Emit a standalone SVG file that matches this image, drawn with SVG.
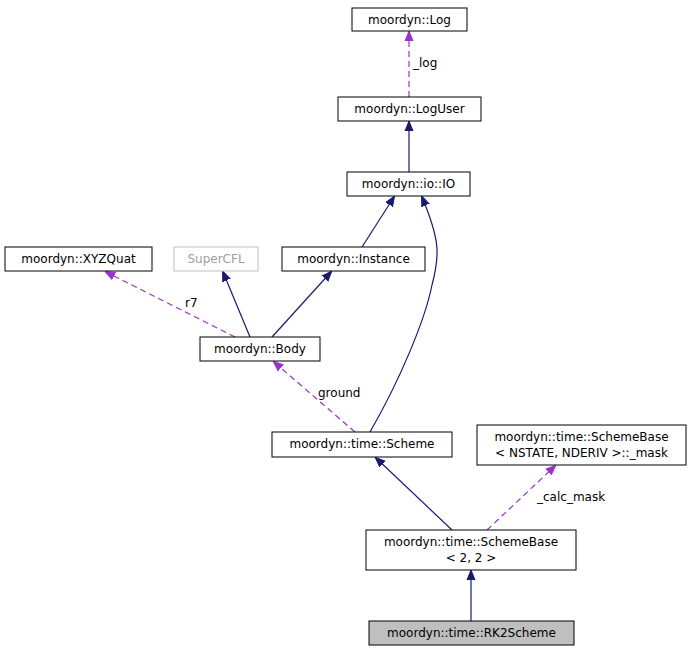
<svg xmlns="http://www.w3.org/2000/svg" width="691" height="652" viewBox="0 0 691 652">
<style>
text{font-family:"DejaVu Sans",sans-serif;font-size:12px;fill:#000}
.n rect{fill:#fff;stroke:#000;stroke-width:1}
.s{stroke:#191970;fill:none;stroke-width:1.2}
.d{stroke:#9a32cd;fill:none;stroke-width:1.2;stroke-dasharray:6,4}
</style>
<defs>
<marker id="a" markerWidth="10" markerHeight="10" refX="9" refY="5" orient="auto" markerUnits="userSpaceOnUse"><path d="M0,1 L10,5 L0,9 Z" fill="#191970" stroke="#191970"/></marker>
<marker id="b" markerWidth="10" markerHeight="10" refX="9" refY="5" orient="auto" markerUnits="userSpaceOnUse"><path d="M0,1 L10,5 L0,9 Z" fill="#9a32cd" stroke="#9a32cd"/></marker>
</defs>
<rect width="691" height="652" fill="#fff"/>
<g id="edges">
<path class="d" d="M409,97 L409,32" marker-end="url(#b)"/><text x="413" y="67">_log</text>
<path class="s" d="M409,172 L409,122" marker-end="url(#a)"/>
<path class="s" d="M362,247 L394,197" marker-end="url(#a)"/>
<path class="s" d="M370,432 C400,380 425,320 432,285 C440,255 440,240 422,197" marker-end="url(#a)"/>
<path class="s" d="M250,337 L223,272" marker-end="url(#a)"/>
<path class="s" d="M272,337 L331,272" marker-end="url(#a)"/>
<path class="d" d="M235,337 L106,272" marker-end="url(#b)"/><text x="185" y="307">r7</text>
<path class="d" d="M355,432 L274,362" marker-end="url(#b)"/><text x="318" y="397">ground</text>
<path class="s" d="M452,530 L376,458" marker-end="url(#a)"/>
<path class="d" d="M487,530 L555,466" marker-end="url(#b)"/><text x="537" y="501">_calc_mask</text>
<path class="s" d="M471,621 L471,571" marker-end="url(#a)"/>
</g>
<g id="log" class="n"><rect x="352" y="8" width="115" height="23"/><text x="409.5" y="24" text-anchor="middle">moordyn::Log</text></g>
<g id="loguser" class="n"><rect x="338" y="97" width="143" height="24"/><text x="409.5" y="113" text-anchor="middle">moordyn::LogUser</text></g>
<g id="io" class="n"><rect x="347" y="172" width="123" height="24"/><text x="408.5" y="188" text-anchor="middle">moordyn::io::IO</text></g>
<g id="xyzquat" class="n"><rect x="5" y="247" width="147" height="24"/><text x="78.5" y="263" text-anchor="middle">moordyn::XYZQuat</text></g>
<g id="supercfl" class="n"><rect x="174" y="247" width="84" height="24" style="stroke:#bfbfbf"/><text x="216" y="263" text-anchor="middle" style="fill:#a0a0a0">SuperCFL</text></g>
<g id="instance" class="n"><rect x="282" y="247" width="143" height="24"/><text x="353.5" y="263" text-anchor="middle">moordyn::Instance</text></g>
<g id="body" class="n"><rect x="200" y="337" width="120" height="24"/><text x="260" y="353" text-anchor="middle">moordyn::Body</text></g>
<g id="scheme" class="n"><rect x="272" y="432" width="180" height="25"/><text x="362" y="448" text-anchor="middle">moordyn::time::Scheme</text></g>
<g id="mask" class="n"><rect x="477" y="425" width="209" height="40"/><text x="581.5" y="441" text-anchor="middle">moordyn::time::SchemeBase</text><text x="581.5" y="457" text-anchor="middle">&lt; NSTATE, NDERIV &gt;::_mask</text></g>
<g id="schemebase22" class="n"><rect x="366" y="530" width="210" height="40"/><text x="471" y="546" text-anchor="middle">moordyn::time::SchemeBase</text><text x="471" y="562" text-anchor="middle">&lt; 2, 2 &gt;</text></g>
<g id="rk2" class="n"><rect x="369" y="621" width="205" height="24" style="fill:#bfbfbf"/><text x="471.5" y="637" text-anchor="middle">moordyn::time::RK2Scheme</text></g>
</svg>
